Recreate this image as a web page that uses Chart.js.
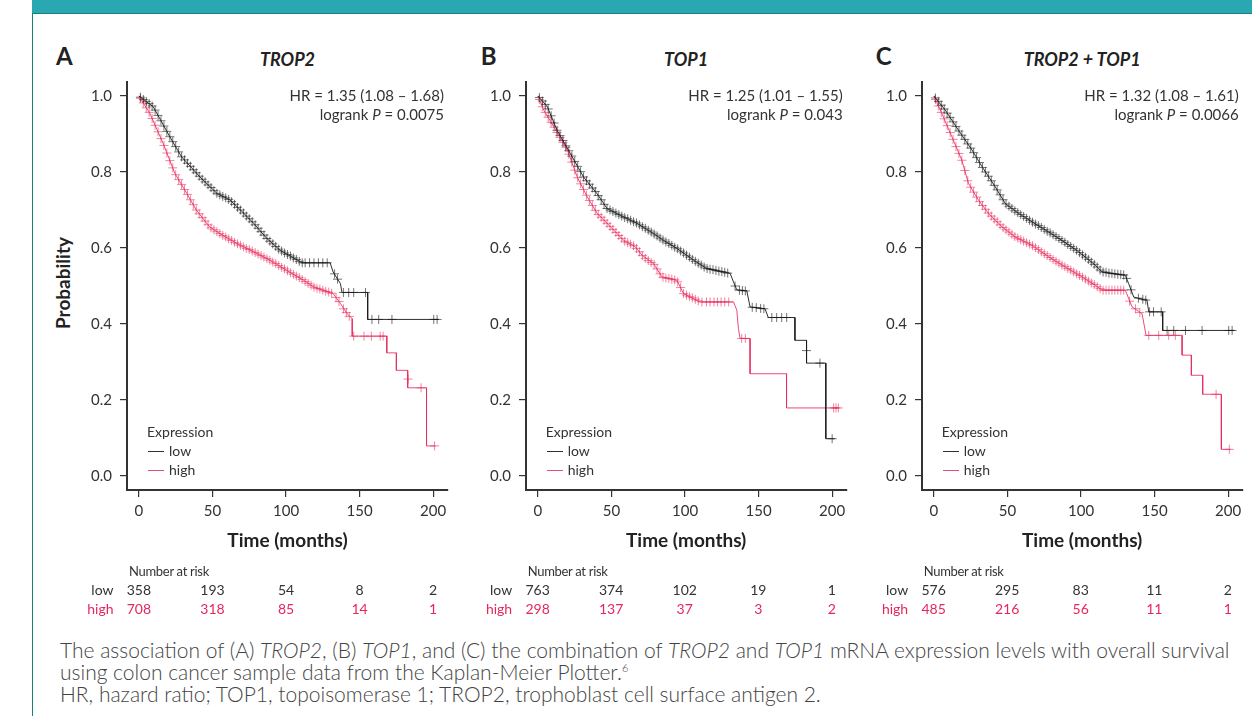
<!DOCTYPE html>
<html>
<head>
<meta charset="utf-8">
<script src="https://cdn.jsdelivr.net/npm/chart.js@4.4.1/dist/chart.umd.min.js"></script>
<style>
  html, body { margin: 0; padding: 0; background: #fff; }
  body { width: 1252px; height: 716px; position: relative; overflow: hidden; font-family: Lato, sans-serif; color: #333; }
  #banner { position: absolute; left: 32px; top: 0; width: 1220px; height: 13px; background: #29a8b4; border-bottom: 1px solid #15827f; }
  #sideline { position: absolute; left: 32px; top: 13px; width: 1px; height: 703px; background: #15827f; }
  canvas { position: absolute; }
  .t { position: absolute; white-space: nowrap; line-height: 1; }
  .letter { font-size: 24px; font-weight: 700; color: #222; }
  .title { font-size: 18px; font-weight: 700; font-style: italic; color: #222; }
  .stat { font-size: 15px; color: #333; }
  .axisTitle { font-size: 19px; font-weight: 700; color: #222; }
  .legend { font-size: 14px; color: #333; }
  .risk { font-size: 14px; color: #333; }
  .riskHead { font-size: 13px; color: #333; letter-spacing: -0.3px; }
  .high { color: #e6275e; }
  .swatch { position: absolute; height: 1px; width: 16px; }
  #caption { position: absolute; left: 60px; top: 639px; font-size: 21px; font-weight: 300; line-height: 22px; color: #444; white-space: nowrap; }
  #caption sup { font-size: 11px; line-height: 0; vertical-align: 8px; }
</style>
</head>
<body>
<div id="banner"></div>
<div id="sideline"></div>
<canvas id="c0" width="377" height="458"></canvas>
<canvas id="c1" width="377" height="458"></canvas>
<canvas id="c2" width="377" height="458"></canvas>
<div id="caption">The association of (A) <i>TROP2</i>, (B) <i>TOP1</i>, and (C) the combination of <i>TROP2</i> and <i>TOP1</i> mRNA expression levels with overall survival<br>using colon cancer sample data from the Kaplan-Meier Plotter.<sup>6</sup><br>HR, hazard ratio; TOP1, topoisomerase 1; TROP2, trophoblast cell surface antigen 2.</div>
<script>
// axis ticks
const xTicks = [0, 50, 100, 150, 200];
const yTicks = [0, 0.2, 0.4, 0.6, 0.8, 1.0];

// panel texts
const letters = ['A', 'B', 'C'];
const titles = ['TROP2', 'TOP1', 'TROP2 + TOP1'];
const hrTexts = ['HR = 1.35 (1.08 – 1.68)', 'HR = 1.25 (1.01 – 1.55)', 'HR = 1.32 (1.08 – 1.61)'];
const pTexts = ['0.0075', '0.043', '0.0066'];

// A: TROP2 - survival curve corners [months, probability]
const trop2Low = [[0,1],[9.7,0.972],[21,0.893],[29,0.84],[41.5,0.787],[53,0.744],[62,0.726],[69,0.70],[78,0.665],[87,0.625],[96,0.594],[111,0.561],[130,0.561],[132,0.537],[137,0.506],[138,0.483],[155.5,0.483],[155.5,0.412],[204,0.412]];
const trop2High = [[0,1],[7.5,0.954],[16.5,0.875],[24.5,0.796],[32.5,0.744],[39,0.70],[48,0.656],[55,0.638],[66.5,0.612],[78,0.59],[89,0.568],[100.5,0.541],[112,0.515],[119,0.497],[132,0.48],[137,0.454],[141.5,0.427],[145,0.414],[145,0.368],[168.5,0.368],[168.5,0.324],[175,0.324],[175,0.278],[182.7,0.278],[182.7,0.232],[195.5,0.232],[195.5,0.079],[201.5,0.079]];
// censored observations (+)
const trop2LowCensor = [[1,0.997],[3,0.991],[5,0.986],[7,0.98],[9,0.974],[11,0.963],[13,0.949],[15,0.935],[17,0.921],[19,0.907],[21,0.893],[23,0.88],[25,0.867],[27,0.853],[29,0.84],[31,0.832],[33,0.823],[35,0.815],[37,0.806],[39,0.798],[41,0.789],[43,0.781],[45,0.774],[47,0.766],[49,0.759],[51,0.751],[53,0.744],[55,0.74],[57,0.736],[59,0.732],[61,0.728],[63,0.722],[65,0.715],[67,0.707],[69,0.70],[71,0.692],[73,0.684],[75,0.677],[77,0.669],[79,0.661],[81,0.652],[83,0.643],[85,0.634],[87,0.625],[89,0.618],[91,0.611],[93,0.604],[95,0.597],[97,0.592],[99,0.587],[101,0.583],[103,0.579],[105,0.574],[107,0.57],[109,0.565],[111,0.561],[113,0.561],[116,0.561],[119,0.561],[122,0.561],[125,0.561],[128,0.561],[133,0.532],[135,0.518],[139,0.483],[142.6,0.483],[146,0.483],[154,0.483],[158.4,0.412],[163,0.412],[172,0.412],[200.4,0.412],[202.7,0.412]];
const trop2HighCensor = [[1,0.994],[3,0.982],[5,0.969],[7,0.957],[9,0.941],[11,0.923],[13,0.906],[15,0.888],[17,0.87],[19,0.85],[21,0.83],[23,0.811],[25,0.793],[27,0.78],[29,0.767],[31,0.754],[33,0.741],[35,0.727],[37,0.714],[39,0.70],[41,0.69],[43,0.68],[45,0.671],[47,0.661],[49,0.653],[51,0.648],[53,0.643],[55,0.638],[57,0.633],[59,0.629],[61,0.624],[63,0.62],[65,0.615],[67,0.611],[69,0.607],[71,0.603],[73,0.599],[75,0.596],[77,0.592],[79,0.588],[81,0.584],[83,0.58],[85,0.576],[87,0.572],[89,0.568],[91,0.563],[93,0.559],[95,0.554],[97,0.549],[99,0.545],[101,0.54],[103,0.535],[105,0.531],[107,0.526],[109,0.522],[111,0.517],[113,0.512],[115,0.507],[117,0.502],[119,0.497],[121,0.494],[123,0.492],[125,0.489],[127,0.486],[129,0.484],[131,0.481],[134,0.47],[136,0.459],[139,0.44],[141,0.43],[143,0.42],[146,0.368],[153,0.368],[158,0.368],[164,0.368],[166,0.368],[183,0.255],[191.8,0.232],[201,0.079]];
const trop2RiskLow = [358, 193, 54, 8, 2];
const trop2RiskHigh = [708, 318, 85, 14, 1];

// B: TOP1
const top1Low = [[0,1],[6.4,0.972],[13,0.91],[22,0.849],[31,0.787],[40,0.744],[47,0.704],[56,0.686],[67.4,0.665],[78.6,0.638],[85.4,0.62],[94.5,0.599],[105.8,0.568],[114.8,0.546],[130.7,0.533],[133,0.51],[135.2,0.49],[142,0.487],[144.2,0.445],[154.4,0.44],[156.6,0.417],[174.7,0.417],[174.7,0.357],[182.6,0.357],[182.6,0.297],[195.7,0.297],[195.7,0.098],[201.8,0.098]];
const top1High = [[0,1],[4,0.963],[10.8,0.919],[20,0.858],[26.7,0.787],[33.5,0.735],[40.3,0.691],[49.3,0.656],[58.3,0.62],[66.2,0.603],[70.8,0.581],[78.6,0.559],[84.3,0.524],[94.5,0.515],[99,0.48],[110.3,0.458],[133,0.458],[135.2,0.436],[136.3,0.388],[137.4,0.362],[144.2,0.362],[144.2,0.269],[169,0.269],[169,0.179],[204.7,0.179]];
const top1LowCensor = [[1,0.996],[3,0.987],[5,0.978],[7,0.966],[9,0.948],[11,0.929],[13,0.91],[15,0.896],[17,0.883],[19,0.869],[21,0.856],[23,0.842],[25,0.828],[27,0.815],[29,0.801],[31,0.787],[33,0.777],[35,0.768],[37,0.758],[39,0.749],[41,0.738],[43,0.727],[45,0.715],[47,0.704],[49,0.7],[51,0.696],[53,0.692],[55,0.688],[57,0.684],[59,0.68],[61,0.677],[63,0.673],[65,0.669],[67,0.666],[69,0.661],[71,0.656],[73,0.652],[75,0.647],[77,0.642],[79,0.637],[81,0.632],[83,0.626],[85,0.621],[87,0.616],[89,0.612],[91,0.607],[93,0.602],[95,0.598],[97,0.592],[99,0.587],[101,0.581],[103,0.576],[105,0.57],[107,0.565],[109,0.56],[111,0.555],[113,0.55],[115,0.546],[117,0.544],[119,0.543],[121,0.541],[123,0.539],[125,0.538],[127,0.536],[129,0.534],[134,0.5],[137,0.489],[139,0.488],[141,0.487],[145.7,0.444],[148.4,0.443],[151.4,0.441],[153.6,0.44],[159,0.417],[162.3,0.417],[165.7,0.417],[169.1,0.417],[182.6,0.33],[191.7,0.297],[200,0.098]];
const top1HighCensor = [[1,0.991],[3,0.972],[5,0.957],[7,0.944],[9,0.931],[11,0.918],[13,0.904],[15,0.891],[17,0.878],[19,0.865],[21,0.847],[23,0.826],[25,0.805],[27,0.785],[29,0.769],[31,0.754],[33,0.739],[35,0.725],[37,0.712],[39,0.699],[41,0.688],[43,0.681],[45,0.673],[47,0.665],[49,0.657],[51,0.649],[53,0.641],[55,0.633],[57,0.625],[59,0.618],[61,0.614],[63,0.61],[65,0.606],[67,0.599],[69,0.59],[71,0.58],[73,0.573],[75,0.567],[77,0.562],[79,0.557],[81,0.545],[83,0.532],[85,0.523],[87,0.521],[89,0.52],[91,0.518],[93,0.516],[95,0.511],[97,0.496],[99,0.48],[101,0.476],[103,0.472],[105,0.469],[107,0.465],[109,0.461],[111.5,0.458],[114.6,0.458],[117,0.458],[119.7,0.458],[122,0.458],[124.5,0.458],[127,0.458],[129.7,0.458],[138.5,0.362],[141,0.362],[201,0.179],[202.6,0.179],[204.2,0.179]];
const top1RiskLow = [763, 374, 102, 19, 1];
const top1RiskHigh = [298, 137, 37, 3, 2];

// C: TROP2 + TOP1
const comboLow = [[0,1],[7.7,0.963],[16.7,0.91],[25.9,0.858],[32.7,0.814],[41.7,0.761],[48.5,0.717],[57.6,0.691],[66.7,0.669],[78,0.642],[87,0.62],[98.4,0.59],[109.7,0.555],[114.3,0.537],[130.1,0.528],[132.4,0.506],[135.8,0.471],[144.9,0.462],[146,0.432],[155.5,0.432],[155.5,0.383],[204.5,0.383]];
const comboHigh = [[0,1],[5.4,0.954],[12.2,0.893],[19,0.831],[23.5,0.77],[30.3,0.726],[37.1,0.691],[46.3,0.656],[55.3,0.629],[66.7,0.607],[78,0.577],[89.3,0.55],[100.7,0.524],[109.7,0.502],[114.3,0.489],[130.1,0.489],[134.7,0.445],[141.5,0.427],[144.2,0.37],[168.7,0.37],[168.7,0.318],[175,0.318],[175,0.265],[182.7,0.265],[182.7,0.215],[195.4,0.215],[195.4,0.07],[201.6,0.07]];
const comboLowCensor = [[1,0.995],[3,0.986],[5,0.976],[7,0.966],[9,0.955],[11,0.944],[13,0.932],[15,0.92],[17,0.908],[19,0.897],[21,0.886],[23,0.874],[25,0.863],[27,0.851],[29,0.838],[31,0.825],[33,0.812],[35,0.8],[37,0.789],[39,0.777],[41,0.765],[43,0.753],[45,0.74],[47,0.727],[49,0.716],[51,0.71],[53,0.704],[55,0.698],[57,0.693],[59,0.688],[61,0.683],[63,0.678],[65,0.673],[67,0.668],[69,0.663],[71,0.659],[73,0.654],[75,0.649],[77,0.644],[79,0.64],[81,0.635],[83,0.63],[85,0.625],[87,0.62],[89,0.615],[91,0.609],[93,0.604],[95,0.599],[97,0.594],[99,0.588],[101,0.582],[103,0.576],[105,0.57],[107,0.563],[109,0.557],[111,0.55],[113,0.542],[115,0.537],[117,0.536],[119,0.534],[121,0.533],[123,0.532],[125,0.531],[127,0.53],[129,0.529],[131,0.52],[134,0.49],[139,0.468],[142,0.465],[144,0.463],[146.6,0.432],[149.3,0.432],[154.5,0.432],[158.5,0.383],[163,0.383],[171,0.383],[182.3,0.383],[200.4,0.383],[202.7,0.383]];
const comboHighCensor = [[1,0.991],[3,0.974],[5,0.957],[7,0.94],[9,0.922],[11,0.904],[13,0.886],[15,0.867],[17,0.849],[19,0.831],[21,0.804],[23,0.777],[25,0.76],[27,0.747],[29,0.734],[31,0.722],[33,0.712],[35,0.702],[37,0.692],[39,0.684],[41,0.676],[43,0.669],[45,0.661],[47,0.654],[49,0.648],[51,0.642],[53,0.636],[55,0.63],[57,0.626],[59,0.622],[61,0.618],[63,0.614],[65,0.61],[67,0.606],[69,0.601],[71,0.596],[73,0.59],[75,0.585],[77,0.58],[79,0.575],[81,0.57],[83,0.565],[85,0.56],[87,0.555],[89,0.551],[91,0.546],[93,0.542],[95,0.537],[97,0.532],[99,0.528],[101,0.523],[103,0.518],[105,0.513],[107,0.508],[109,0.504],[111,0.498],[113,0.493],[115,0.489],[117,0.489],[119,0.489],[121,0.489],[123,0.489],[125,0.489],[127,0.489],[129,0.489],[133,0.46],[137,0.44],[140,0.43],[146,0.37],[152.8,0.37],[159.6,0.37],[164.1,0.37],[191.8,0.215],[200.8,0.07]];
const comboRiskLow = [576, 295, 83, 11, 2];
const comboRiskHigh = [485, 216, 56, 11, 1];

const LOW_LINE = 'rgba(25,25,25,0.9)';
const HIGH_LINE = 'rgba(232,45,95,0.85)';
const LOW_MARK = 'rgba(20,20,20,0.6)';
const HIGH_MARK = 'rgba(230,30,80,0.55)';

const panels = [
    { left: 127, letterDx: -71, low: trop2Low, high: trop2High, lowC: trop2LowCensor, highC: trop2HighCensor, riskLow: trop2RiskLow, riskHigh: trop2RiskHigh },
    { left: 525.7, letterDx: -45, low: top1Low, high: top1High, lowC: top1LowCensor, highC: top1HighCensor, riskLow: top1RiskLow, riskHigh: top1RiskHigh },
    { left: 921.7, letterDx: -46, low: comboLow, high: comboHigh, lowC: comboLowCensor, highC: comboHighCensor, riskLow: comboRiskLow, riskHigh: comboRiskHigh }
];

const Y_AXIS_W = 50, X_AXIS_H = 40, PAD_TOP = 10, AREA_TOP = 82;

const toXY = pts => pts.map(([x, y]) => ({ x, y }));

// place a text div; align: 'l' | 'c' | 'r', y is the vertical centre
function addText(html, x, y, cls, align) {
    const d = document.createElement('div');
    d.className = 't ' + cls;
    d.innerHTML = html;
    d.style.left = x + 'px';
    d.style.top = y + 'px';
    const tx = align === 'c' ? '-50%' : align === 'r' ? '-100%' : '0';
    d.style.transform = `translate(${tx}, -50%)`;
    document.body.appendChild(d);
    return d;
}

function addSwatch(x, y, color) {
    const sw = document.createElement('div');
    sw.className = 'swatch';
    sw.style.cssText = `left:${x}px;top:${y}px;background:${color}`;
    document.body.appendChild(sw);
}

Chart.defaults.font.family = 'Lato, sans-serif';

panels.forEach((p, i) => {
    const canvas = document.getElementById('c' + i);
    const canvasLeft = p.left - Y_AXIS_W;
    const canvasTop = AREA_TOP - PAD_TOP;
    canvas.style.left = canvasLeft + 'px';
    canvas.style.top = canvasTop + 'px';

    const chart = new Chart(canvas, {
        type: 'scatter',
        data: {
            datasets: [
                { data: toXY(p.low), showLine: true, borderColor: LOW_LINE, borderWidth: 1, pointRadius: 0 },
                { data: toXY(p.high), showLine: true, borderColor: HIGH_LINE, borderWidth: 1, pointRadius: 0 },
                { data: toXY(p.lowC), showLine: false, pointStyle: 'cross', pointRadius: 4.5, pointBorderColor: LOW_MARK, pointBorderWidth: 1, borderColor: LOW_MARK },
                { data: toXY(p.highC), showLine: false, pointStyle: 'cross', pointRadius: 4.5, pointBorderColor: HIGH_MARK, pointBorderWidth: 1, borderColor: HIGH_MARK }
            ]
        },
        options: {
            responsive: false,
            animation: false,
            events: [],
            layout: { padding: { top: PAD_TOP, right: 6, left: 0, bottom: 0 } },
            plugins: { legend: { display: false }, tooltip: { enabled: false } },
            scales: {
                x: {
                    type: 'linear',
                    min: -8.1,
                    max: 210.1,
                    afterFit: s => { s.height = X_AXIS_H; s.paddingLeft = 0; s.paddingRight = 0; },
                    afterBuildTicks: s => { s.ticks = xTicks.map(v => ({ value: v })); },
                    grid: { drawOnChartArea: false, drawTicks: true, tickLength: 7, color: '#333', lineWidth: 1.2 },
                    border: { display: true, color: '#333', width: 2 },
                    ticks: { color: '#333', font: { size: 15 }, padding: 5, maxRotation: 0, autoSkip: false }
                },
                y: {
                    type: 'linear',
                    min: -0.037,
                    max: 1.037,
                    afterFit: s => { s.width = Y_AXIS_W; s.paddingTop = 0; s.paddingBottom = 0; },
                    afterBuildTicks: s => { s.ticks = yTicks.map(v => ({ value: v })); },
                    grid: { drawOnChartArea: false, drawTicks: true, tickLength: 7, color: '#333', lineWidth: 1.2 },
                    border: { display: true, color: '#333', width: 2 },
                    ticks: { color: '#333', font: { size: 15 }, padding: 8, autoSkip: false, callback: v => v.toFixed(1) }
                }
            }
        }
    });

    const L = p.left;
    const xs = chart.scales.x;
    const px = t => canvasLeft + xs.getPixelForValue(t);
    const areaCenter = canvasLeft + (chart.chartArea.left + chart.chartArea.right) / 2;

    // panel letter and title
    addText(letters[i], L + p.letterDx, 56, 'letter', 'l');
    addText(titles[i], areaCenter, 58.5, 'title', 'c');

    // hazard ratio text
    addText(hrTexts[i], L + 317, 94.5, 'stat', 'r');
    addText('logrank <i>P</i> = ' + pTexts[i], L + 317, 114, 'stat', 'r');

    // legend inside the plot
    addText('Expression', L + 20, 432, 'legend', 'l');
    addText('low', L + 42, 451, 'legend', 'l');
    addText('high', L + 42, 470, 'legend', 'l');
    addSwatch(L + 21, 451, LOW_LINE);
    addSwatch(L + 21, 470, HIGH_LINE);

    // x axis title
    addText('Time (months)', areaCenter, 539, 'axisTitle', 'c');

    // number at risk table
    addText('Number at risk', L + 2, 571, 'riskHead', 'l');
    addText('low', L - 13.5, 590, 'risk', 'r');
    addText('high', L - 13.5, 609, 'risk high', 'r');
    xTicks.forEach((t, k) => {
        addText(String(p.riskLow[k]), px(t), 590, 'risk', 'c');
        addText(String(p.riskHigh[k]), px(t), 609, 'risk high', 'c');
    });
});

// y axis title, only on the first panel
const yTitle = addText('Probability', 62, 283, 'axisTitle', 'c');
yTitle.style.fontSize = '19px';
yTitle.style.transform = 'translate(-50%, -50%) rotate(-90deg)';
</script>
</body>
</html>
